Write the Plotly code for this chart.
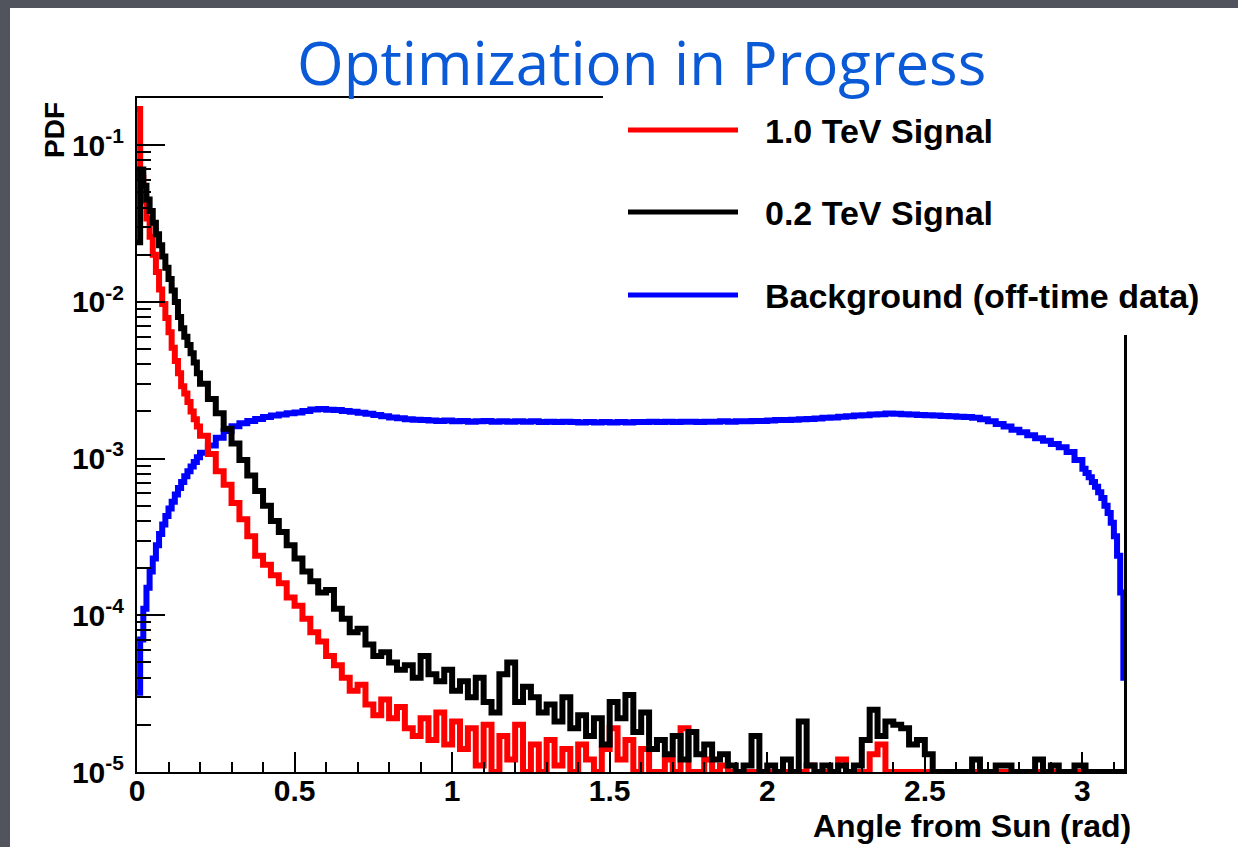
import math
import plotly.graph_objects as go

# ---------------- data ----------------
# bin left edges: 0.01 wide near 0, 0.025 wide in the middle, 0.01 wide near pi
edges_a = [i / 100 for i in range(0, 20)]            # 0.00 .. 0.19
edges_b = [(200 + 25 * i) / 1000 for i in range(112)]  # 0.200 .. 2.975
edges_c = [i / 100 for i in range(300, 314)]          # 3.00 .. 3.13
x_end = math.pi

red_a = [0.17, 0.062, 0.044, 0.034, 0.026, 0.020, 0.0155, 0.0120, 0.0097, 0.0079,
         0.0064, 0.0051, 0.0042, 0.0035, 0.0029, 0.0026, 0.0023, 0.0020, 0.00178, 0.0016]
red_b = [1.40e-3, 1.07e-3, 8.3e-4, 6.8e-4, 5.2e-4, 4.1e-4, 3.2e-4, 2.4e-4,
         2.1e-4, 1.8e-4, 1.6e-4, 1.3e-4, 1.15e-4, 9.5e-5, 7.8e-5, 6.8e-5,
         5.5e-5, 4.8e-5, 4.0e-5, 3.3e-5, 3.6e-5, 2.7e-5, 2.3e-5, 2.9e-5,
         2.2e-5, 2.6e-5, 1.9e-5, 1.7e-5, 2.2e-5, 1.6e-5, 2.4e-5, 1.5e-5,
         2.1e-5, 1.4e-5, 1.9e-5, 1.1e-5, 2.0e-5, 1.0e-5, 1.7e-5, 1.2e-5,
         2.0e-5, 1.0e-5, 1.5e-5, 1.0e-5, 1.6e-5, 1.1e-5, 1.4e-5, 1.0e-5,
         1.5e-5, 1.2e-5, 1.0e-5, 1.4e-5, 1.9e-5, 1.2e-5, 1.6e-5, 1.0e-5,
         1.4e-5, 1.0e-5, 1.0e-5, 1.2e-5, 1.0e-5, 1.9e-5, 1.0e-5, 1.0e-5,
         1.2e-5, 1.0e-5, 1.1e-5, 1.0e-5, 1.0e-5, 1.0e-5, 1.0e-5, 1.0e-5,
         1.0e-5, 1.0e-5, 1.0e-5, 1.0e-5, 1.0e-5, 1.1e-5, 1.0e-5, 1.0e-5,
         1.0e-5, 1.2e-5, 1.0e-5, 1.0e-5, 1.0e-5, 1.3e-5, 1.5e-5, 1.0e-5,
         1.0e-5, 1.0e-5, 1.0e-5, 1.0e-5, 1.0e-5, 1.0e-5, 1.0e-5, 1.0e-5,
         1.0e-5, 1.0e-5, 1.0e-5, 1.0e-5, 1.0e-5, 1.0e-5, 1.0e-5, 1.0e-5,
         1.0e-5, 1.0e-5, 1.0e-5, 1.0e-5, 1.0e-5, 1.0e-5, 1.0e-5, 1.0e-5]
red_c = [1.0e-5] * 14
red_last = 3.0e-2

black_a = [0.024, 0.070, 0.055, 0.045, 0.038, 0.032, 0.027, 0.023, 0.0195, 0.0165,
           0.0140, 0.0118, 0.0100, 0.0080, 0.0068, 0.0060, 0.0053, 0.0047, 0.0041, 0.0035]
black_b = [3.0e-3, 2.4e-3, 1.95e-3, 1.55e-3, 1.25e-3, 9.8e-4, 7.8e-4, 6.2e-4,
           5.0e-4, 4.0e-4, 3.4e-4, 2.8e-4, 2.3e-4, 1.9e-4, 1.65e-4, 1.4e-4,
           1.45e-4, 1.1e-4, 9.5e-5, 7.8e-5, 8.2e-5, 6.5e-5, 5.5e-5, 5.8e-5,
           5.0e-5, 4.5e-5, 4.8e-5, 4.0e-5, 5.5e-5, 4.2e-5, 3.8e-5, 4.5e-5,
           3.3e-5, 3.8e-5, 3.0e-5, 4.0e-5, 2.8e-5, 2.4e-5, 4.2e-5, 5.0e-5,
           2.8e-5, 3.5e-5, 3.0e-5, 2.4e-5, 2.7e-5, 2.1e-5, 3.0e-5, 1.9e-5,
           2.3e-5, 1.7e-5, 2.2e-5, 1.5e-5, 2.8e-5, 2.2e-5, 3.1e-5, 1.8e-5,
           2.4e-5, 1.4e-5, 1.6e-5, 1.3e-5, 1.7e-5, 1.2e-5, 1.8e-5, 1.3e-5,
           1.5e-5, 1.2e-5, 1.3e-5, 1.1e-5, 1.0e-5, 1.1e-5, 1.7e-5, 1.0e-5,
           1.1e-5, 1.0e-5, 1.2e-5, 1.0e-5, 2.1e-5, 1.1e-5, 1.0e-5, 1.1e-5,
           1.0e-5, 1.1e-5, 1.0e-5, 1.1e-5, 1.6e-5, 2.5e-5, 1.7e-5, 2.1e-5,
           2.0e-5, 1.9e-5, 1.5e-5, 1.6e-5, 1.3e-5, 1.0e-5, 1.0e-5, 1.0e-5,
           1.0e-5, 1.0e-5, 1.2e-5, 1.0e-5, 1.0e-5, 1.1e-5, 1.1e-5, 1.0e-5,
           1.0e-5, 1.0e-5, 1.2e-5, 1.0e-5, 1.1e-5, 1.0e-5, 1.0e-5, 1.1e-5]
black_c = [1.1e-5] + [1.0e-5] * 13
black_last = 3.0e-2

blue_a = [3.2e-5, 7.0e-5, 1.1e-4, 1.5e-4, 1.9e-4, 2.3e-4, 2.8e-4, 3.3e-4, 3.8e-4, 4.3e-4,
          4.8e-4, 5.3e-4, 5.9e-4, 6.5e-4, 7.1e-4, 7.7e-4, 8.3e-4, 8.9e-4, 9.5e-4, 1.02e-3]
blue_b = [1.09e-3, 1.21e-3, 1.36e-3, 1.50e-3, 1.61e-3, 1.68e-3, 1.74e-3, 1.79e-3,
          1.84e-3, 1.88e-3, 1.91e-3, 1.95e-3, 1.97e-3, 2.01e-3, 2.06e-3, 2.07e-3,
          2.05e-3, 2.04e-3, 2.01e-3, 1.99e-3, 1.96e-3, 1.93e-3, 1.90e-3, 1.86e-3,
          1.83e-3, 1.81e-3, 1.78e-3, 1.77e-3, 1.76e-3, 1.75e-3, 1.74e-3, 1.75e-3,
          1.73e-3, 1.74e-3, 1.72e-3, 1.73e-3, 1.74e-3, 1.72e-3, 1.73e-3, 1.72e-3,
          1.73e-3, 1.72e-3, 1.73e-3, 1.71e-3, 1.72e-3, 1.71e-3, 1.72e-3, 1.71e-3,
          1.70e-3, 1.71e-3, 1.70e-3, 1.71e-3, 1.70e-3, 1.71e-3, 1.70e-3, 1.71e-3,
          1.71e-3, 1.72e-3, 1.71e-3, 1.72e-3, 1.71e-3, 1.72e-3, 1.72e-3, 1.71e-3,
          1.72e-3, 1.72e-3, 1.73e-3, 1.72e-3, 1.73e-3, 1.73e-3, 1.74e-3, 1.74e-3,
          1.75e-3, 1.76e-3, 1.76e-3, 1.77e-3, 1.78e-3, 1.79e-3, 1.80e-3, 1.82e-3,
          1.83e-3, 1.85e-3, 1.86e-3, 1.88e-3, 1.89e-3, 1.91e-3, 1.92e-3, 1.94e-3,
          1.93e-3, 1.92e-3, 1.91e-3, 1.90e-3, 1.89e-3, 1.88e-3, 1.87e-3, 1.86e-3,
          1.85e-3, 1.84e-3, 1.82e-3, 1.78e-3, 1.73e-3, 1.66e-3, 1.60e-3, 1.53e-3,
          1.47e-3, 1.41e-3, 1.35e-3, 1.30e-3, 1.24e-3, 1.18e-3, 1.10e-3, 9.8e-4]
blue_c = [8.6e-4, 8.1e-4, 7.6e-4, 7.1e-4, 6.6e-4, 6.1e-4, 5.6e-4, 5.0e-4, 4.5e-4, 3.9e-4,
          3.2e-4, 2.4e-4, 1.4e-4, 4.0e-5]
blue_last = 1.0e-5

series_names = ["1.0 TeV Signal", "0.2 TeV Signal", "Background (off-time data)"]
x_ticks = [0, 0.5, 1, 1.5, 2, 2.5, 3]
x_ticktext = ["0", "0.5", "1", "1.5", "2", "2.5", "3"]
y_ticks = [1e-5, 1e-4, 1e-3, 1e-2, 1e-1]
y_ticktext = ["10<sup>-5</sup>", "10<sup>-4</sup>", "10<sup>-3</sup>", "10<sup>-2</sup>", "10<sup>-1</sup>"]
y_minor_mant = [2, 3, 4, 5, 6, 7, 8, 9]

# ---------------- layout geometry ----------------
W, H = 1238, 847
L, R, T, B = 137, 111, 98, 75
PW, PH = W - L - R, H - T - B


def px(xp):
    return (xp - L) / PW


def py(yp):
    return (H - B - yp) / PH


edges = edges_a + edges_b + edges_c
xs = edges + [x_end]

RED, BLACK, BLUE = "#ff0000", "#000000", "#0000ff"
SANS = "Liberation Sans, Arial, sans-serif"
AX_FONT = dict(family=SANS, size=30, color="black", weight="bold")

fig = go.Figure()
series = [
    (series_names[2], blue_a + blue_b + blue_c, blue_last, BLUE),
    (series_names[0], red_a + red_b + red_c, red_last, RED),
    (series_names[1], black_a + black_b + black_c, black_last, BLACK),
]
for name, vals, last, col in series:
    assert len(vals) == len(edges)
    fig.add_trace(go.Scatter(x=xs, y=vals + [last], mode="lines", name=name,
                             line=dict(color=col, width=6, shape="hv"),
                             showlegend=False, hoverinfo="skip"))

y_minor = [m * 10.0 ** e for e in range(-5, -1 + 1) for m in y_minor_mant if m * 10.0 ** e < 0.19]

fig.update_layout(
    width=W, height=H,
    margin=dict(l=L, r=R, t=T, b=B, autoexpand=False),
    paper_bgcolor="#51545d",
    plot_bgcolor="white",
    xaxis=dict(range=[0, x_end], showgrid=False, zeroline=False,
               showline=True, linecolor="black", linewidth=2, mirror=True,
               ticks="inside", ticklen=20, tickwidth=2, tickcolor="black",
               tickvals=x_ticks, ticktext=x_ticktext, tickfont=AX_FONT,
               ticklabelstandoff=-9,
               minor=dict(ticks="inside", ticklen=10, tickwidth=2, tickcolor="black",
                          dtick=0.1, tick0=0, showgrid=False),
               automargin=False),
    yaxis=dict(type="log", range=[-5, math.log10(0.2)], showgrid=False, zeroline=False,
               showline=True, linecolor="black", linewidth=2, mirror=False,
               ticks="inside", ticklen=28, tickwidth=2, tickcolor="black",
               tickvals=y_ticks, ticktext=y_ticktext, tickfont=AX_FONT,
               ticklabelstandoff=5,
               minor=dict(ticks="inside", ticklen=14, tickwidth=2, tickcolor="black",
                          tickmode="array", tickvals=y_minor, showgrid=False),
               automargin=False),
)

shapes = [
    # white slide area
    dict(type="rect", xref="paper", yref="paper", layer="below",
         x0=px(10), x1=px(W + 20), y0=py(H + 20), y1=py(8),
         fillcolor="white", line=dict(width=0)),
    # legend box (white, no border)
    dict(type="rect", xref="paper", yref="paper", layer="above",
         x0=px(603), x1=px(W + 20), y0=py(335), y1=py(88),
         fillcolor="white", line=dict(width=0)),
]
legend_rows = [(130, RED), (212, BLACK), (295, BLUE)]
for (yy, col) in legend_rows:
    shapes.append(dict(type="line", xref="paper", yref="paper", layer="above",
                       x0=px(628), x1=px(738), y0=py(yy), y1=py(yy),
                       line=dict(color=col, width=5)))

annotations = []
for (yy, col), name in zip(legend_rows, series_names):
    annotations.append(dict(x=px(763), y=py(yy + 1), xref="paper", yref="paper",
                            text=name, showarrow=False, xanchor="left", yanchor="middle",
                            font=dict(family=SANS, size=34, color="black", weight="bold")))
annotations.append(dict(x=px(1133), y=py(826), xref="paper", yref="paper",
                        text="Angle from Sun (rad)", showarrow=False,
                        xanchor="right", yanchor="middle",
                        font=dict(family=SANS, size=32, color="black", weight="bold")))
annotations.append(dict(x=px(55), y=py(130), xref="paper", yref="paper",
                        text="PDF", showarrow=False, textangle=-90,
                        xanchor="center", yanchor="middle",
                        font=dict(family=SANS, size=28, color="black", weight="bold")))
annotations.append(dict(x=px(641), y=py(62), xref="paper", yref="paper",
                        text="Optimization in Progress", showarrow=False,
                        xanchor="center", yanchor="middle",
                        font=dict(family="Open Sans, sans-serif", size=60, color="#0a5ad8")))

fig.update_layout(shapes=shapes, annotations=annotations)
fig.write_html("out.html")
